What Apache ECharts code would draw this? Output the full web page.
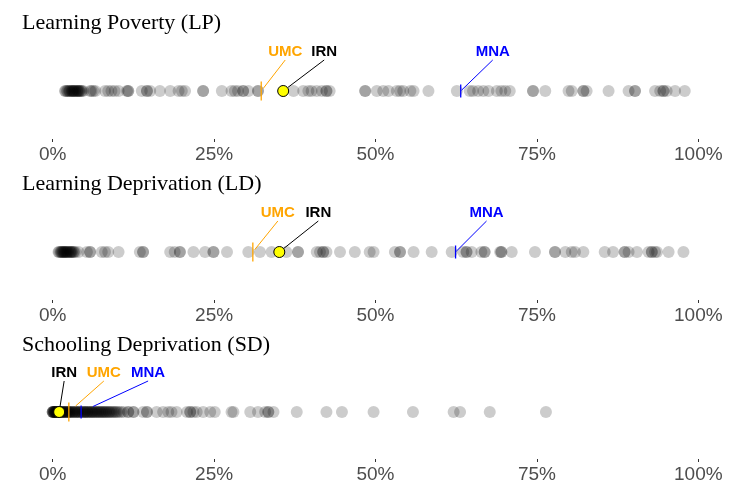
<!DOCTYPE html>
<html>
<head>
<meta charset="utf-8">
<script src="https://cdn.jsdelivr.net/npm/echarts@6/dist/echarts.min.js"></script>
<style>html,body{margin:0;padding:0;background:#fff}#chart{width:737px;height:484px}</style>
</head>
<body>
<div id="chart"></div>
<script>
// ---- data ----
const titles = ['Learning Poverty (LP)', 'Learning Deprivation (LD)', 'Schooling Deprivation (SD)'];
const tickValues = [0, 25, 50, 75, 100];
const tickLabels = ['0%', '25%', '50%', '75%', '100%'];
const refNames = ['IRN', 'UMC', 'MNA'];

const lpValues = [1.9, 2.0, 2.2, 2.3, 2.5, 2.6, 2.7, 2.9, 3.0, 3.1, 3.2, 3.3, 3.4, 3.5, 3.7, 3.8, 3.9, 4.0, 4.1, 4.2,
  4.4, 4.5, 4.7, 5.8, 6.0, 6.3, 6.6, 8.1, 8.6, 9.1, 9.6, 10.2,
  11.5, 11.7, 11.7, 13.8, 14.6, 14.6, 15.1, 16.6, 18.2, 19.5, 20.0, 20.5, 23.3, 23.3, 26.2, 27.7, 28.2, 28.7, 29.5, 29.5,
  30.3, 31.8, 31.8, 37.3, 38.8, 39.6, 40.1, 40.9, 41.7, 42.4, 42.4, 42.9, 48.4, 48.4, 50.2, 51.2, 52.0, 53.3, 53.8, 54.3,
  55.4, 55.9, 58.2, 62.6, 64.6, 65.1, 65.9, 66.7, 67.5, 68.8, 69.5, 70.1, 70.8, 74.4, 74.4, 76.3, 79.9, 80.4, 82.2, 82.2,
  82.7, 86.1, 89.2, 90.2, 90.2, 93.3, 94.1, 94.6, 94.6, 95.1, 96.4, 97.9];

const ldValues = [0.9, 1.0, 1.2, 1.3, 1.4, 1.5, 1.6, 1.7, 1.8, 1.9, 2.0, 2.1, 2.2, 2.3, 2.4, 2.6, 2.7, 2.8, 2.9, 3.0,
  3.2, 3.3, 3.5, 4.0, 5.3, 5.8, 5.8, 7.6, 8.1, 8.6, 10.2, 13.5,
  14.0, 14.0, 18.2, 18.9, 19.7, 19.7, 21.8, 23.6, 24.9, 24.9, 27.0, 30.3, 32.1, 33.9, 36.2, 38.0, 38.0, 40.9, 41.4, 41.9,
  41.9, 42.4, 44.5, 46.8, 49.1, 49.7, 53.0, 53.8, 53.8, 55.9, 58.7, 61.8, 63.6, 64.1, 64.1, 64.9, 66.4, 66.9, 66.9, 69.3,
  69.5, 69.5, 71.1, 74.7, 77.8, 77.8, 79.4, 80.4, 80.9, 82.2, 85.5, 86.8, 88.6, 88.6, 89.2, 90.5, 92.3, 92.8, 92.8, 93.3,
  93.6, 95.4, 97.7];

const sdValues = [0.0, 0.0, 0.0, 0.1, 0.1, 0.2, 0.2, 0.3, 0.3, 0.4, 0.4, 0.5, 0.5, 0.6, 0.7, 0.7, 0.8, 0.9, 1.0, 1.0,
  1.1, 1.2, 1.3, 1.4, 1.5, 1.5, 1.6, 1.7, 1.8, 1.9, 2.0, 2.1, 2.2, 2.3, 2.4, 2.5, 2.6, 2.7, 2.8, 3.0,
  3.1, 3.2, 3.4, 3.5, 3.6, 3.8, 3.9, 4.0, 4.2, 4.3, 4.5, 4.6, 4.8, 4.9, 5.0, 5.1, 5.3, 5.4, 5.5, 5.7,
  5.8, 6.0, 6.1, 6.2, 6.4, 6.5, 6.7, 6.8, 7.0, 7.1, 7.3, 7.4, 7.6, 7.7, 7.9, 8.0, 8.2, 8.3, 8.5, 8.7,
  8.8, 9.0, 9.2, 9.4, 9.6, 9.8, 10.0, 10.3, 10.6, 11.0, 11.7, 11.7, 12.5, 12.5, 14.0, 14.6, 14.6, 16.1, 17.1, 17.9,
  18.4, 19.2, 20.8, 21.3, 21.3, 21.8, 22.3, 23.3, 24.4, 25.1, 27.7, 28.0, 30.6, 31.8, 32.9, 33.4, 33.4, 34.2, 37.8, 42.4,
  44.8, 49.7, 55.8, 62.1, 63.1, 67.7, 76.4];

const irnValues = [35.7, 35.1, 1.0];
const umcValues = [32.3, 31.0, 2.5];
const mnaValues = [63.2, 62.4, 4.4];

// ---- style / layout (pixels) ----
const refColors = { IRN: '#000000', UMC: '#FFA500', MNA: '#0000FF' };
const labelLayout = [
  { IRN: [41, -39, 6], UMC: [24, -39, 3], MNA: [32, -39, 1] },
  { IRN: [39, -39, 6], UMC: [25, -39, 3], MNA: [31, -39, 1] },
  { IRN: [5, -39, 6], UMC: [35, -39, 9], MNA: [67, -39, 13] }
];
const refHalfHeight = { UMC: 9.5, MNA: 6.5 };
const gridTops = [43, 204, 365];
const titleTops = [12, 173, 334];
const panelValues = [lpValues, ldValues, sdValues];

const chart = echarts.init(document.getElementById('chart'), null, { renderer: 'canvas' });

const grids = [], xAxes = [], yAxes = [], series = [], titleOpts = [];
for (let p = 0; p < 3; p++) {
  grids.push({ left: 52.7, right: 38.7, top: gridTops[p], height: 96 });
  xAxes.push({
    gridIndex: p, type: 'value', min: 0, max: 100, interval: 25, position: 'bottom',
    axisLine: { show: false, onZero: false }, splitLine: { show: false },
    axisTick: { show: true, length: 3, lineStyle: { color: '#333', width: 1 } },
    axisLabel: {
      margin: 6, color: '#4d4d4d', fontSize: 19, fontFamily: 'Liberation Sans, Arial, sans-serif',
      formatter: v => tickLabels[tickValues.indexOf(v)]
    }
  });
  yAxes.push({ gridIndex: p, type: 'value', min: -1, max: 1, show: false });
  titleOpts.push({
    text: titles[p], left: 22, top: titleTops[p], padding: 0,
    textStyle: { fontFamily: 'Liberation Serif, Times New Roman, serif', fontSize: 22, fontWeight: 'normal', color: '#000' }
  });
  series.push({
    type: 'scatter', xAxisIndex: p, yAxisIndex: p,
    symbol: 'circle', symbolSize: 12,
    itemStyle: { color: '#000', opacity: 0.2 },
    data: panelValues[p].map(v => [v, 0]),
    silent: true, z: 2
  });
  const refData = [
    { name: 'IRN', value: [irnValues[p], 0] },
    { name: 'UMC', value: [umcValues[p], 0] },
    { name: 'MNA', value: [mnaValues[p], 0] }
  ];
  const panel = p;
  series.push({
    type: 'custom', xAxisIndex: p, yAxisIndex: p, z: 5, silent: true,
    data: refData,
    renderItem: function (params, api) {
      const name = refNames[params.dataIndex];
      const pt = api.coord([api.value(0), api.value(1)]);
      const lay = labelLayout[panel][name];
      const lx = pt[0] + lay[0], ly = pt[1] + lay[1];
      const sx = lx, sy = ly + 8;
      const dx = pt[0] - sx, dy = pt[1] - sy;
      const len = Math.sqrt(dx * dx + dy * dy);
      const ex = pt[0] - dx / len * lay[2], ey = pt[1] - dy / len * lay[2];
      const color = refColors[name];
      const children = [];
      if (name === 'IRN') {
        children.push({
          type: 'circle', shape: { cx: pt[0], cy: pt[1], r: 5.5 },
          style: { fill: '#FFFF00', stroke: '#000', lineWidth: 1 }, z2: 10
        });
      } else {
        const h = refHalfHeight[name];
        children.push({
          type: 'line', shape: { x1: pt[0], y1: pt[1] - h, x2: pt[0], y2: pt[1] + h },
          style: { stroke: color, lineWidth: 1.3 }, z2: 5
        });
      }
      children.push({
        type: 'line', shape: { x1: sx, y1: sy, x2: ex, y2: ey },
        style: { stroke: color, lineWidth: 1 }, z2: 6
      });
      children.push({
        type: 'text', x: lx, y: ly,
        style: {
          text: name, fill: color, fontSize: 15, fontWeight: 'bold',
          fontFamily: 'Liberation Sans, Arial, sans-serif', align: 'center', verticalAlign: 'middle'
        }, z2: 7
      });
      return { type: 'group', children: children };
    }
  });
}

chart.setOption({
  animation: false,
  backgroundColor: '#fff',
  title: titleOpts,
  grid: grids,
  xAxis: xAxes,
  yAxis: yAxes,
  series: series
});
</script>
</body>
</html>
